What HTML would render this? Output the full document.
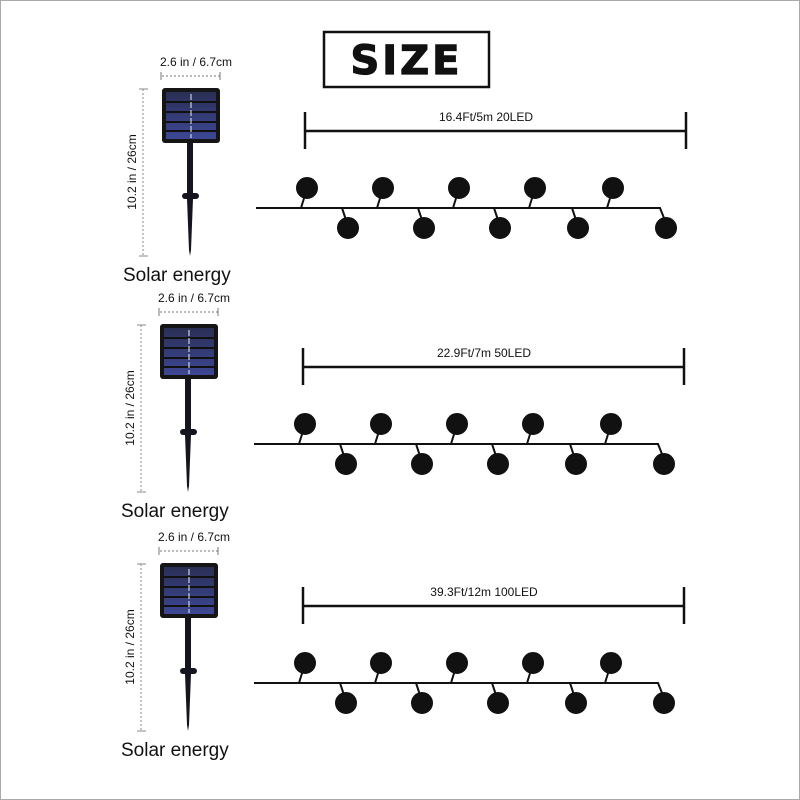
<!DOCTYPE html>
<html><head><meta charset="utf-8"><style>
html,body{margin:0;padding:0;background:#fff;}
svg{display:block;}
text{font-family:"Liberation Sans",sans-serif;fill:#111;}
</style></head><body>
<svg width="800" height="800" viewBox="0 0 800 800" xmlns="http://www.w3.org/2000/svg">
<rect x="0.5" y="0.5" width="799" height="799" fill="#fff" stroke="#aaa" stroke-width="1"/>
<rect x="324" y="32" width="165" height="55" fill="#fff" stroke="#111" stroke-width="2.5"/>
<text x="406.5" y="74" text-anchor="middle" font-size="40" font-weight="bold" letter-spacing="3" style="font-family:'DejaVu Sans','Liberation Sans',sans-serif;fill:#111" stroke="#111" stroke-width="1.2">SIZE</text>
<defs>
<linearGradient id="pan" x1="0" y1="0" x2="0" y2="1">
<stop offset="0" stop-color="#2a2f55"/><stop offset="1" stop-color="#3d4794"/>
</linearGradient>
<g id="sec">
  <text x="196" y="66" text-anchor="middle" font-size="12">2.6 in / 6.7cm</text>
  <line x1="162" y1="76" x2="220" y2="76" stroke="#777" stroke-width="1" stroke-dasharray="2,2"/>
  <line x1="161" y1="72" x2="161" y2="80" stroke="#777"/>
  <line x1="220" y1="72" x2="220" y2="80" stroke="#777"/>
  <line x1="143" y1="89" x2="143" y2="256" stroke="#888" stroke-width="1" stroke-dasharray="2,2"/>
  <line x1="139" y1="89" x2="148" y2="89" stroke="#888"/>
  <line x1="139" y1="256" x2="148" y2="256" stroke="#888"/>
  <text transform="translate(136,172) rotate(-90)" text-anchor="middle" font-size="12">10.2 in / 26cm</text>
  <rect x="162" y="88" width="58" height="55" rx="3" fill="#151515"/>
  <rect x="166" y="92" width="50" height="47" fill="url(#pan)"/>
  <line x1="166" y1="102" x2="216" y2="102" stroke="#111" stroke-width="2"/>
  <line x1="166" y1="112" x2="216" y2="112" stroke="#111" stroke-width="2"/>
  <line x1="166" y1="122" x2="216" y2="122" stroke="#111" stroke-width="2"/>
  <line x1="166" y1="131" x2="216" y2="131" stroke="#111" stroke-width="2"/>
  <line x1="191" y1="94" x2="191" y2="138" stroke="#eee" stroke-width="1" stroke-dasharray="6,2"/>
  <rect x="187" y="143" width="6" height="50" fill="#15151f"/>
  <rect x="182" y="193" width="17" height="6" rx="3" fill="#15151f"/>
  <polygon points="187,199 193,199 191,250 190,256 189,250" fill="#15151f"/>
  <text x="123" y="281" font-size="19">Solar energy</text>
  <line x1="305" y1="131" x2="686" y2="131" stroke="#111" stroke-width="2.5"/>
  <line x1="305" y1="112" x2="305" y2="149" stroke="#111" stroke-width="2.5"/>
  <line x1="686" y1="112" x2="686" y2="149" stroke="#111" stroke-width="2.5"/>
  <text x="486" y="121" text-anchor="middle" font-size="12">16.4Ft/5m 20LED</text>
  <polyline points="256,208 660,208 664,218" fill="none" stroke="#111" stroke-width="2"/>
  <g fill="#111" stroke="#111" stroke-width="2">
    <circle cx="307" cy="188" r="10"/><line x1="305" y1="195" x2="301" y2="208"/>
    <circle cx="383" cy="188" r="10"/><line x1="381" y1="195" x2="377" y2="208"/>
    <circle cx="459" cy="188" r="10"/><line x1="457" y1="195" x2="453" y2="208"/>
    <circle cx="535" cy="188" r="10"/><line x1="533" y1="195" x2="529" y2="208"/>
    <circle cx="613" cy="188" r="10"/><line x1="611" y1="195" x2="607" y2="208"/>
    <circle cx="348" cy="228" r="10"/><line x1="342" y1="208" x2="346" y2="220"/>
    <circle cx="424" cy="228" r="10"/><line x1="418" y1="208" x2="422" y2="220"/>
    <circle cx="500" cy="228" r="10"/><line x1="494" y1="208" x2="498" y2="220"/>
    <circle cx="578" cy="228" r="10"/><line x1="572" y1="208" x2="576" y2="220"/>
    <circle cx="666" cy="228" r="10"/>
  </g>
</g>
</defs>
<use href="#sec"/>
<g transform="translate(-2,236)">
  <use href="#sec"/>
</g>
<g transform="translate(-2,475)">
  <use href="#sec"/>
</g>
<!-- cover labels for sections 2,3 -->
<rect x="400" y="344" width="180" height="16" fill="#fff"/>
<text x="484" y="357" text-anchor="middle" font-size="12">22.9Ft/7m 50LED</text>
<rect x="400" y="583" width="180" height="16" fill="#fff"/>
<text x="484" y="596" text-anchor="middle" font-size="12">39.3Ft/12m 100LED</text>
</svg>
</body></html>
